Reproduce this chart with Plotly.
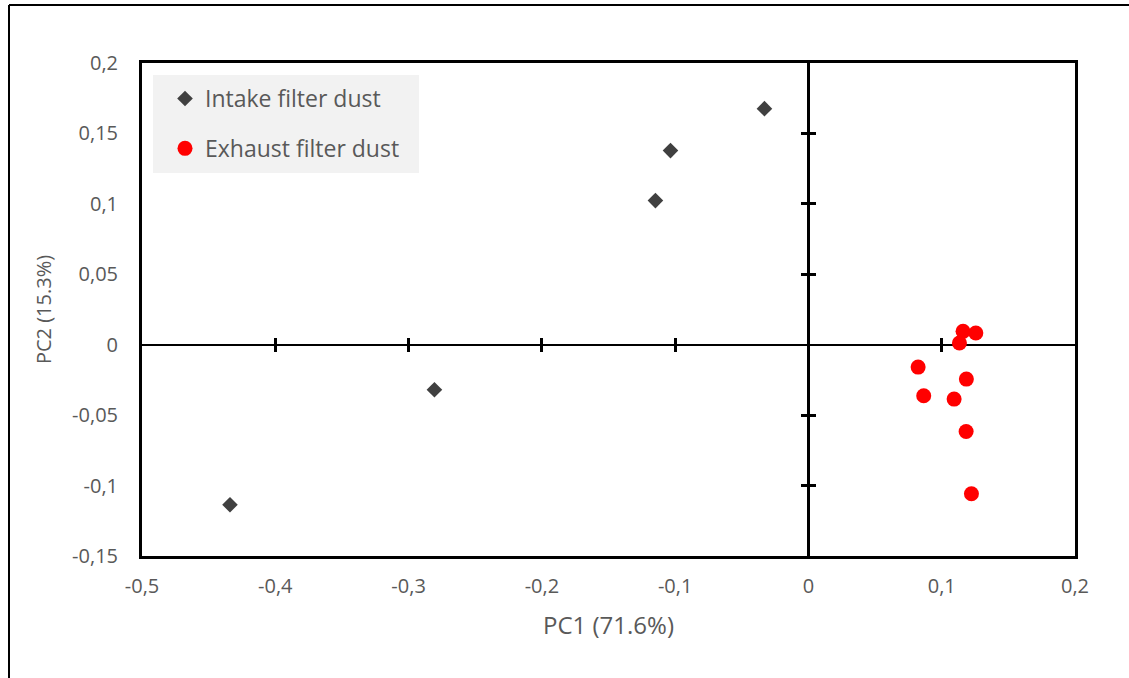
import plotly.graph_objects as go

# ---- data ----
intake_pc1 = [-0.033, -0.1035, -0.1148, -0.2806, -0.434]
intake_pc2 = [0.1676, 0.1378, 0.1023, -0.032, -0.1136]

exhaust_pc1 = [0.116, 0.1256, 0.1133, 0.0823, 0.1185, 0.0865, 0.1093, 0.1183, 0.1223]
exhaust_pc2 = [0.0095, 0.0083, 0.0012, -0.0159, -0.0244, -0.0362, -0.0386, -0.0616, -0.1058]

x_tickvals = [-0.5, -0.4, -0.3, -0.2, -0.1, 0, 0.1, 0.2]
x_ticktext = ["-0,5", "-0,4", "-0,3", "-0,2", "-0,1", "0", "0,1", "0,2"]
y_tickvals = [-0.15, -0.1, -0.05, 0, 0.05, 0.1, 0.15, 0.2]
y_ticktext = ["-0,15", "-0,1", "-0,05", "0", "0,05", "0,1", "0,15", "0,2"]

x_cross_ticks = [-0.4, -0.3, -0.2, -0.1, 0.1]
y_cross_ticks = [-0.1, -0.05, 0.05, 0.1, 0.15]

x_range = [-0.5, 0.2]
y_range = [-0.15, 0.2]

FONT = "'Open Sans', sans-serif"
GREY = "#595959"

W, H = 1129, 678
ML, MR, MT, MB = 142, 54, 63, 122
PW, PH = W - ML - MR, H - MT - MB


def px_x(px):  # page pixel -> paper x
    return (px - ML) / PW


def px_y(py):  # page pixel -> paper y
    return (H - MB - py) / PH


fig = go.Figure()

fig.add_trace(go.Scatter(
    x=intake_pc1, y=intake_pc2, mode="markers", name="Intake filter dust",
    legendgroup="a",
    marker=dict(symbol="diamond", size=12, color="#404040"),
))
fig.add_trace(go.Scatter(
    x=exhaust_pc1, y=exhaust_pc2, mode="markers", name="Exhaust filter dust",
    legendgroup="b",
    marker=dict(symbol="circle", size=15, color="#ff0000"),
))

# invisible traces so overlay axes (zero lines with crossing ticks) exist
for xa, ya in [("x2", "y"), ("x3", "y"), ("x", "y2"), ("x", "y3")]:
    fig.add_trace(go.Scatter(x=[], y=[], xaxis=xa, yaxis=ya, showlegend=False, hoverinfo="skip"))

x_zero_pos = (0 - y_range[0]) / (y_range[1] - y_range[0])
y_zero_pos = (0 - x_range[0]) / (x_range[1] - x_range[0])

common = dict(showgrid=False, zeroline=False)

fig.update_layout(
    width=W, height=H,
    margin=dict(l=ML, r=MR, t=MT, b=MB),
    paper_bgcolor="white", plot_bgcolor="white",
    font=dict(family=FONT, color=GREY, size=20),
    showlegend=True,
    legend=dict(
        x=px_x(165), y=px_y(77), xanchor="left", yanchor="top",
        bgcolor="rgba(0,0,0,0)", font=dict(size=23, color=GREY, family=FONT),
        tracegroupgap=17, itemsizing="trace",
    ),
    xaxis=dict(
        range=x_range, tickvals=x_tickvals, ticktext=x_ticktext,
        showline=True, mirror=True, linecolor="black", linewidth=3,
        ticks="", ticklabelstandoff=10,
        title=dict(text="PC1 (71.6%)", standoff=20, font=dict(size=24, color=GREY)),
        **common,
    ),
    yaxis=dict(
        range=y_range, tickvals=y_tickvals, ticktext=y_ticktext,
        showline=True, mirror=True, linecolor="black", linewidth=3,
        ticks="", ticklabelstandoff=17,
        title=dict(text="PC2 (15.3%)", standoff=16, font=dict(size=20, color=GREY)),
        **common,
    ),
    xaxis2=dict(
        overlaying="x", anchor="free", position=x_zero_pos, range=x_range,
        showline=True, linecolor="black", linewidth=1.5,
        tickvals=x_cross_ticks, ticks="outside", ticklen=7, tickwidth=3, tickcolor="black",
        showticklabels=False, layer="below traces", **common,
    ),
    xaxis3=dict(
        overlaying="x", anchor="free", position=x_zero_pos, range=x_range,
        showline=False,
        tickvals=x_cross_ticks, ticks="inside", ticklen=7, tickwidth=3, tickcolor="black",
        showticklabels=False, layer="below traces", **common,
    ),
    yaxis2=dict(
        overlaying="y", anchor="free", position=y_zero_pos, range=y_range,
        showline=True, linecolor="black", linewidth=2.5,
        tickvals=y_cross_ticks, ticks="outside", ticklen=7, tickwidth=3, tickcolor="black",
        showticklabels=False, layer="below traces", **common,
    ),
    yaxis3=dict(
        overlaying="y", anchor="free", position=y_zero_pos, range=y_range,
        showline=False,
        tickvals=y_cross_ticks, ticks="inside", ticklen=7, tickwidth=3, tickcolor="black",
        showticklabels=False, layer="below traces", **common,
    ),
)

# legend background box
fig.add_shape(type="rect", xref="paper", yref="paper",
              x0=px_x(153), x1=px_x(419), y0=px_y(173), y1=px_y(75),
              fillcolor="#f2f2f2", line=dict(width=0), layer="below")

# outer frame of the original figure (left and top edges only visible)
fx, fy = px_x(9), px_y(5)
fig.add_shape(type="line", xref="paper", yref="paper", x0=fx, x1=fx, y0=-0.5, y1=fy,
              line=dict(color="black", width=2))
fig.add_shape(type="line", xref="paper", yref="paper", x0=fx, x1=1.2, y0=fy, y1=fy,
              line=dict(color="black", width=2))

fig.write_html(
    "out.html",
    config={"displayModeBar": False},
    post_script="document.body.style.margin='0';document.body.style.overflow='hidden';",
)
